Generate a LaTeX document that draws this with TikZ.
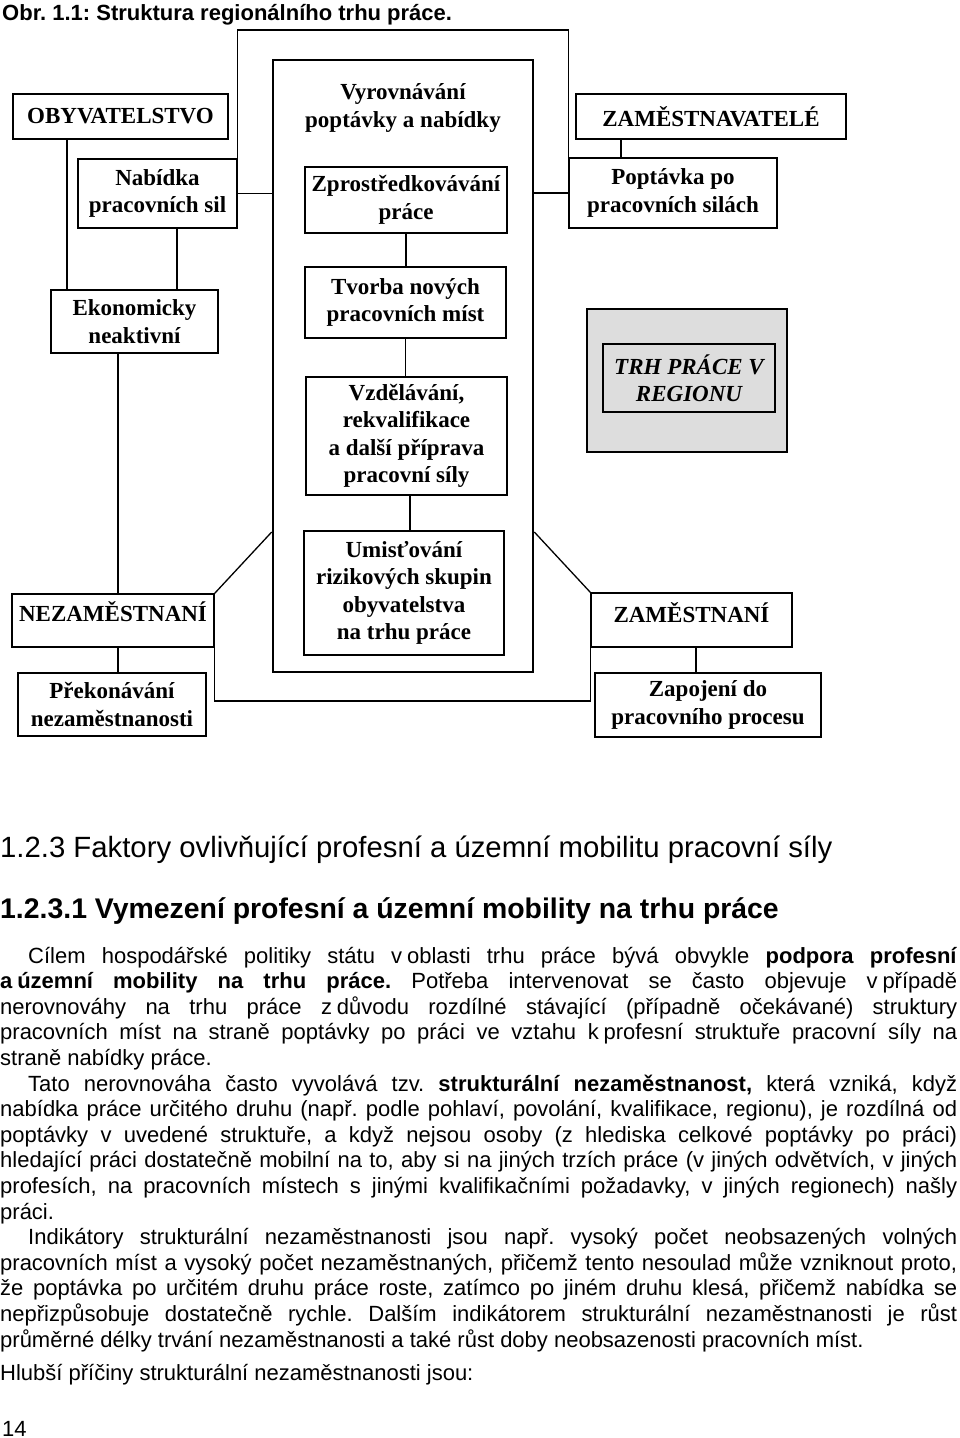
\documentclass[tikz,border=0pt]{standalone}
\usepackage{fontspec}
\usepackage{graphicx}
\setmainfont{Liberation Serif}
\newfontfamily\tnr{Liberation Serif}
\newfontfamily\ars{Liberation Sans}
\definecolor{graybg}{RGB}{221,221,221}
\newcommand\nsp{\kern0.22em}
\newsavebox\jlbox
\newcommand\jl[2]{\sbox\jlbox{#2}\ifdim\wd\jlbox>#1\relax\resizebox{#1}{\height}{\usebox\jlbox}\else\makebox[#1][s]{#2}\fi}
\frenchspacing
\tikzset{
 box/.style={draw, line width=1.4pt, inner sep=0pt, align=center, font=\tnr\bfseries\fontsize{23}{27.5}\selectfont},
 txt/.style={inner sep=0pt, align=center, font=\tnr\bfseries\fontsize{23}{27.5}\selectfont},
 conn/.style={line width=1.3pt},
 body/.style={anchor=base west, inner sep=0pt, font=\ars\fontsize{22}{25.6}\selectfont\frenchspacing},
}
\begin{document}
\begin{tikzpicture}[x=1pt,y=-1pt]
\fill[white] (0,0) rectangle (960,1438);
\useasboundingbox (0,0) rectangle (960,1438);

% title
\node[anchor=base west, inner sep=0pt, font=\ars\bfseries\fontsize{22}{25}\selectfont\frenchspacing] (title) at (2,20) {Obr. 1.1: Struktura regionálního trhu práce.};

% boxes
\node[box, minimum width=215pt, minimum height=45pt] (obyv) at (120.5,116.5) {OBYVATELSTVO};
\node[box, minimum width=270pt, minimum height=45pt] (zamv) at (711,116.5) {ZAMĚSTNAVATELÉ};
\node[box, minimum width=159pt, minimum height=69pt] (nab) at (157.5,193.5) {Nabídka\\pracovních sil};
\node[box, line width=2.6pt, minimum width=260pt, minimum height=612pt] (big) at (403,366) {};
\node[txt] (vyr) at (403,108) {Vyrovnávání\\poptávky a nabídky};
\node[box, minimum width=202pt, minimum height=66pt] (zpr) at (406,200) {Zprostředkovávání\\práce};
\node[box, minimum width=208pt, minimum height=70pt] (pop) at (673,193) {Poptávka po\\pracovních silách};
\node[box, minimum width=167pt, minimum height=63pt] (ekon) at (134.5,321.5) {Ekonomicky\\neaktivní};
\node[box, minimum width=201pt, minimum height=71pt] (tvor) at (405.5,302.5) {Tvorba nových\\pracovních míst};
\node[box, minimum width=201pt, minimum height=118pt] (vzd) at (406.5,436) {Vzdělávání,\\rekvalifikace\\a další příprava\\pracovní síly};
\node[box, fill=graybg, minimum width=200pt, minimum height=143pt] (gray) at (687,380.5) {};
\node[box, font=\tnr\bfseries\itshape\fontsize{23}{27}\selectfont, minimum width=172pt, minimum height=68pt] (trh) at (689,378) {TRH PRÁCE V\\REGIONU};
\node[box, minimum width=202pt, minimum height=53pt] (nez) at (113,620.5) {};
\node[txt] (nezt) at (113,612) {NEZAMĚSTNANÍ};
\node[box, minimum width=200pt, minimum height=124pt] (umi) at (404,593) {Umisťování\\rizikových skupin\\obyvatelstva\\na trhu práce};
\node[box, minimum width=201pt, minimum height=54pt] (zam) at (691.5,620) {};
\node[txt] (zamt) at (691.5,613) {ZAMĚSTNANÍ};
\node[box, minimum width=188pt, minimum height=63pt] (prek) at (112,704.5) {Překonávání\\nezaměstnanosti};
\node[box, minimum width=226pt, minimum height=64pt] (zap) at (708,705) {Zapojení do\\pracovního procesu};

% helper coordinates
\coordinate (ytop) at (0,30);
\coordinate (x67) at (67,0);
\coordinate (x177) at (177,0);
\coordinate (x118) at (118,0);
\coordinate (x410) at (410,0);
\coordinate (x621) at (621,0);
\coordinate (x696) at (696,0);
\coordinate (y532) at (0,532);
\coordinate (y701) at (0,701);

% connectors
\draw[conn] (nab.north east) -- (nab.north east |- ytop) -- (pop.north west |- ytop) -- (pop.north west);
\draw[conn] (nab.east) -- (big.west |- nab.east);
\draw[conn] (big.east |- pop.west) -- (pop.west);
\draw[conn] (obyv.south -| x67) -- (ekon.north -| x67);
\draw[conn] (nab.south -| x177) -- (ekon.north -| x177);
\draw[conn] (zpr.south) -- (zpr.south |- tvor.north);
\draw[conn] (tvor.south) -- (tvor.south |- vzd.north);
\draw[conn] (vzd.south -| x410) -- (umi.north -| x410);
\draw[conn] (zamv.south -| x621) -- (pop.north -| x621);
\draw[conn] (ekon.south -| x118) -- (nez.north -| x118);
\draw[conn] (nez.south -| x118) -- (prek.north -| x118);
\draw[conn] (zam.south -| x696) -- (zap.north -| x696);
\draw[conn] (nez.north east) -- (big.west |- y532);
\draw[conn] (big.east |- y532) -- (zam.north west);
\draw[conn] (nez.south east) -- (nez.south east |- y701) -- (zam.south west |- y701) -- (zam.south west);

% headings
\node[anchor=base west, inner sep=0pt, font=\ars\fontsize{29.3}{33}\selectfont] (h1) at (0,857) {1.2.3 Faktory ovlivňující profesní a územní mobilitu pracovní síly};
\node[anchor=base west, inner sep=0pt, font=\ars\bfseries\fontsize{28.4}{33}\selectfont] (h2) at (0,918) {1.2.3.1 Vymezení profesní a územní mobility na trhu práce};

% body
\node[body] (b1) at (28,963) {\jl{929pt}{Cílem hospodářské politiky státu v\nsp oblasti trhu práce bývá obvykle \textbf{podpora profesní}}};
\node[body] (b2) at (0,988.6) {\jl{957pt}{\textbf{a\nsp územní mobility na trhu práce.} Potřeba intervenovat se často objevuje v\nsp případě}};
\node[body] (b3) at (0,1014.2) {\jl{957pt}{nerovnováhy na trhu práce z\nsp důvodu rozdílné stávající (případně očekávané) struktury}};
\node[body] (b4) at (0,1039.8) {\jl{957pt}{pracovních míst na straně poptávky po práci ve vztahu k\nsp profesní struktuře pracovní síly na}};
\node[body] (b5) at (0,1065.4) {straně nabídky práce.};
\node[body] (b6) at (28,1091) {\jl{929pt}{Tato nerovnováha často vyvolává tzv. \textbf{strukturální nezaměstnanost,} která vzniká, když}};
\node[body] (b7) at (0,1116.6) {\jl{957pt}{nabídka práce určitého druhu (např. podle pohlaví, povolání, kvalifikace, regionu), je rozdílná od}};
\node[body] (b8) at (0,1142.2) {\jl{957pt}{poptávky v uvedené struktuře, a když nejsou osoby (z hlediska celkové poptávky po práci)}};
\node[body] (b9) at (0,1167.8) {\jl{957pt}{hledající práci dostatečně mobilní na to, aby si na jiných trzích práce (v jiných odvětvích, v jiných}};
\node[body] (b10) at (0,1193.4) {\jl{957pt}{profesích, na pracovních místech s jinými kvalifikačními požadavky, v jiných regionech) našly}};
\node[body] (b11) at (0,1219) {práci.};
\node[body] (b12) at (28,1244.6) {\jl{929pt}{Indikátory strukturální nezaměstnanosti jsou např. vysoký počet neobsazených volných}};
\node[body] (b13) at (0,1270.2) {\jl{957pt}{pracovních míst a vysoký počet nezaměstnaných, přičemž tento nesoulad může vzniknout proto,}};
\node[body] (b14) at (0,1295.8) {\jl{957pt}{že poptávka po určitém druhu práce roste, zatímco po jiném druhu klesá, přičemž nabídka se}};
\node[body] (b15) at (0,1321.4) {\jl{957pt}{nepřizpůsobuje dostatečně rychle. Dalším indikátorem strukturální nezaměstnanosti je růst}};
\node[body] (b16) at (0,1347) {průměrné délky trvání nezaměstnanosti a také růst doby neobsazenosti pracovních míst.};
\node[body] (b17) at (0,1380) {Hlubší příčiny strukturální nezaměstnanosti jsou:};
\node[body] (pg) at (2,1436) {14};
\end{tikzpicture}
\end{document}
